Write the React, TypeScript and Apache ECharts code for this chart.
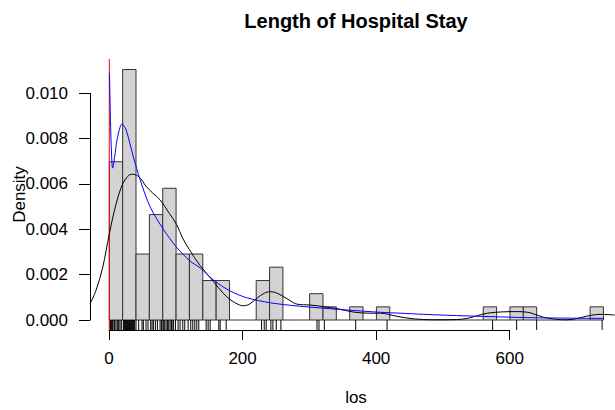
import React, { useEffect, useRef } from "react";
import * as echarts from "echarts";

// Histogram bin edges and densities
const breaks = [0, 20, 40, 60, 80, 100, 120, 140, 160, 180, 200, 220, 240, 260, 280, 300, 320, 340, 360, 380, 400, 420, 440, 460, 480, 500, 520, 540, 560, 580, 600, 620, 640, 660, 680, 700, 720, 740];
const densities = [0.00698, 0.01105, 0.00291, 0.00465, 0.00581, 0.00291, 0.00291, 0.00174, 0.00174, 0, 0, 0.00174, 0.00233, 0, 0, 0.00116, 0.00058, 0, 0.00058, 0, 0.00058, 0, 0, 0, 0, 0, 0, 0, 0.00058, 0, 0.00058, 0.00058, 0, 0, 0, 0, 0.00058];

// Rug: observed lengths of stay
const rugValues = [1, 2, 3, 4, 5, 7, 8, 10, 12, 14, 16, 18, 21, 22, 23, 24, 25, 26, 27, 28, 29, 30, 31, 32, 33, 34, 35, 36, 37, 38, 40, 44, 49, 51, 55, 58, 62, 64, 66, 69, 72, 76, 78, 79, 81, 83, 85, 87, 89, 91, 93, 94, 96, 99, 103, 106, 110, 113, 118, 122, 125, 128, 131, 134, 145, 148, 151, 164, 166, 175, 228, 232, 235, 242, 245, 250, 257, 311, 314, 322, 369, 416, 574, 610, 640, 738];

// Kernel density curve (black)
const kdeX = [-29, -20, -10, 0, 10, 20, 30, 35, 45, 55, 65, 76, 90, 101, 110, 120, 136, 156, 170, 181, 195, 201, 210, 221, 232, 241, 250, 261, 271, 281, 301, 321, 341, 366, 390, 406, 431, 456, 486, 520, 536, 550, 566, 590, 610, 630, 650, 670, 685, 700, 715, 735, 757];
const kdeY = [0.0007, 0.0013, 0.0023, 0.0038, 0.0051, 0.006, 0.0064, 0.00643, 0.0063, 0.0059, 0.0056, 0.0053, 0.0047, 0.0042, 0.0036, 0.0031, 0.0024, 0.0017, 0.0012, 0.0009, 0.00066, 0.00063, 0.0007, 0.00096, 0.00118, 0.00125, 0.0012, 0.00103, 0.00085, 0.0007, 0.00066, 0.00059, 0.0005, 0.00035, 0.0003, 0.0003, 0.00016, 0.00005, 0.00001, 0.00002, 0.00007, 0.00018, 0.0003, 0.00036, 0.00037, 0.00032, 0.00012, 0.00003, 0.00001, 0.00006, 0.00017, 0.00025, 0.00022];

// Fitted density curve (blue)
const fitX = [0.3, 2, 4, 5, 8, 12, 19, 25, 36, 46, 61, 81, 101, 121, 136, 156, 181, 206, 241, 281, 321, 366, 406, 436, 471, 536, 636, 740];
const fitY = [0.0109, 0.0085, 0.0069, 0.0067, 0.0072, 0.008, 0.00865, 0.0084, 0.0072, 0.0062, 0.005, 0.004, 0.0032, 0.0026, 0.0023, 0.00176, 0.00128, 0.00098, 0.00076, 0.00062, 0.00052, 0.00042, 0.00034, 0.0003, 0.00025, 0.00018, 0.0001, 0.00007];

const yTicksMax = 0.01;
const xTicksMax = 600;

const FONT = "'Liberation Sans', Arial, Helvetica, sans-serif";

export default function App() {
  const ref = useRef<HTMLDivElement>(null);
  useEffect(() => {
    if (!ref.current) return;
    const chart = echarts.init(ref.current, null, { renderer: "svg" });
    const xMin = -28.9;
    const xMax = 757.3;
    const yMin = -0.000441;
    const yMax = 0.011513;

    const histData = densities.map((d, i) => [breaks[i], breaks[i + 1], d]);

    chart.setOption({
      animation: false,
      backgroundColor: "#ffffff",
      grid: [
        { left: 90, right: 0, top: 59, bottom: 80 },
        { left: 90, top: 93.33, width: 10, height: 226.67 },
        { left: 109, top: 300, width: 400.7, height: 30 },
      ],
      xAxis: [
        { gridIndex: 0, type: "value", min: xMin, max: xMax, show: false },
        { gridIndex: 1, type: "value", min: 0, max: 1, show: false },
        {
          gridIndex: 2,
          type: "value",
          min: 0,
          max: xTicksMax,
          interval: 200,
          position: "bottom",
          axisLine: { show: true, lineStyle: { color: "#000", width: 1 } },
          axisTick: { show: true, length: 10, lineStyle: { color: "#000", width: 1 } },
          axisLabel: { fontSize: 17, color: "#000", margin: 20, fontFamily: FONT },
          splitLine: { show: false },
        },
      ],
      yAxis: [
        { gridIndex: 0, type: "value", min: yMin, max: yMax, show: false },
        {
          gridIndex: 1,
          type: "value",
          min: 0,
          max: yTicksMax,
          interval: 0.002,
          position: "left",
          axisLine: { show: true, lineStyle: { color: "#000", width: 1 } },
          axisTick: { show: true, length: 11, lineStyle: { color: "#000", width: 1 } },
          axisLabel: {
            fontSize: 17,
            color: "#000",
            margin: 22,
            fontFamily: FONT,
            formatter: (v: number) => v.toFixed(3),
          },
          splitLine: { show: false },
        },
        { gridIndex: 2, type: "value", min: 0, max: 1, show: false },
      ],
      graphic: [
        {
          type: "text",
          x: 356,
          y: 21,
          style: {
            text: "Length of Hospital Stay",
            font: `bold 20px ${FONT}`,
            fill: "#000",
            textAlign: "center",
            textVerticalAlign: "middle",
            align: "center",
            verticalAlign: "middle",
          },
        },
        {
          type: "text",
          x: 356,
          y: 397,
          style: {
            text: "los",
            font: `17px ${FONT}`,
            fill: "#000",
            textAlign: "center",
            textVerticalAlign: "middle",
            align: "center",
            verticalAlign: "middle",
          },
        },
        {
          type: "text",
          x: 19,
          y: 194.5,
          rotation: Math.PI / 2,
          style: {
            text: "Density",
            font: `17px ${FONT}`,
            fill: "#000",
            textAlign: "center",
            textVerticalAlign: "middle",
            align: "center",
            verticalAlign: "middle",
          },
        },
      ],
      series: [
        {
          type: "custom",
          xAxisIndex: 0,
          yAxisIndex: 0,
          data: histData,
          encode: { x: [0, 1], y: 2 },
          clip: false,
          renderItem: (params: any, api: any) => {
            const x0 = api.value(0);
            const x1 = api.value(1);
            const d = api.value(2);
            const pTop = api.coord([x0, d]);
            const pBot = api.coord([x1, 0]);
            if (d === 0) {
              return {
                type: "line",
                shape: { x1: pTop[0], y1: pBot[1], x2: pBot[0], y2: pBot[1] },
                style: { stroke: "#333", lineWidth: 1 },
              };
            }
            return {
              type: "rect",
              shape: { x: pTop[0], y: pTop[1], width: pBot[0] - pTop[0], height: pBot[1] - pTop[1] },
              style: { fill: "#d3d3d3", stroke: "#333", lineWidth: 1 },
            };
          },
        },
        {
          type: "line",
          xAxisIndex: 0,
          yAxisIndex: 0,
          data: [
            [0, yMin],
            [0, yMax],
          ],
          showSymbol: false,
          symbol: "none",
          lineStyle: { color: "#ff0000", width: 1 },
        },
        {
          type: "line",
          xAxisIndex: 0,
          yAxisIndex: 0,
          data: kdeX.map((x, i) => [x, kdeY[i]]),
          showSymbol: false,
          symbol: "none",
          smooth: 0.35,
          lineStyle: { color: "#000", width: 1 },
        },
        {
          type: "line",
          xAxisIndex: 0,
          yAxisIndex: 0,
          data: fitX.map((x, i) => [x, fitY[i]]),
          showSymbol: false,
          symbol: "none",
          smooth: 0.3,
          lineStyle: { color: "#0000ff", width: 1 },
        },
        {
          type: "custom",
          xAxisIndex: 0,
          yAxisIndex: 0,
          data: rugValues.map((v) => [v, 0]),
          encode: { x: 0, y: 1 },
          renderItem: (params: any, api: any) => {
            const p = api.coord([api.value(0), 0]);
            return {
              type: "line",
              shape: { x1: p[0], y1: p[1], x2: p[0], y2: p[1] + 10 },
              style: { stroke: "#000", lineWidth: 1 },
            };
          },
        },
      ],
    });
    return () => chart.dispose();
  }, []);
  return (
    <div
      ref={ref}
      style={{ position: "absolute", left: 0, top: 0, width: 615, height: 410 }}
    />
  );
}
